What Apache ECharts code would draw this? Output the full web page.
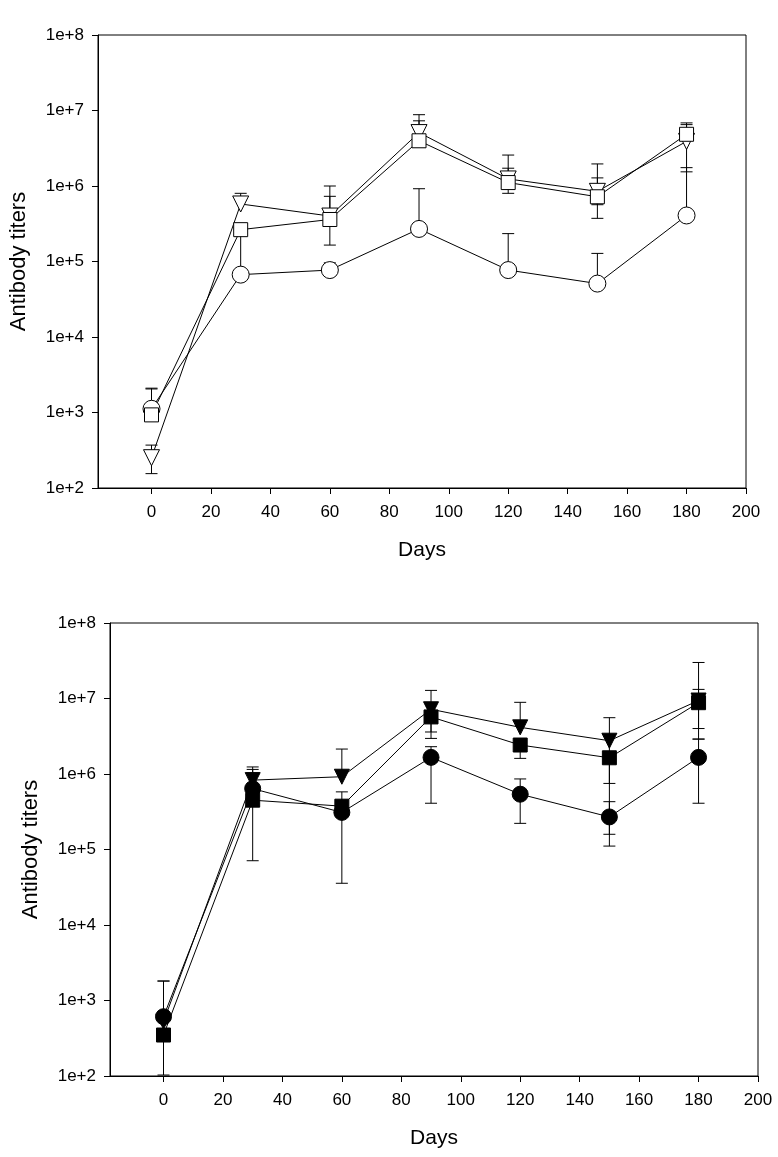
<!DOCTYPE html>
<html>
<head>
<meta charset="utf-8">
<script src="https://cdn.jsdelivr.net/npm/echarts@6/dist/echarts.min.js"></script>
<style>
html,body{margin:0;padding:0;background:#fff;}
#chart{width:778px;height:1157px;}
</style>
</head>
<body>
<div id="chart"></div>
<script>
// ---- data ----
const days = [0, 30, 60, 90, 120, 150, 180];
const xTicks = [0, 20, 40, 60, 80, 100, 120, 140, 160, 180, 200];
const yTicks = [1e2, 1e3, 1e4, 1e5, 1e6, 1e7, 1e8];

// top panel (open symbols)
const circleTop   = [1120, 67000, 77000, 270000, 77000, 51000, 407000];
const squareTop   = [930, 264000, 360000, 3970000, 1110000, 720000, 4840000];
const triangleTop = [252, 578000, 400000, 5100000, 1240000, 850000, 3900000];
const circleTopHi   = [2100, 264000, 96000, 920000, 234000, 128000, 1750000];
const circleTopLo   = [null, null, null, null, null, null, null];
const squareTopHi   = [2050, null, 1000000, 7300000, 1720000, 1280000, 6850000];
const squareTopLo   = [null, null, 165000, 3300000, 800000, 565000, null];
const triangleTopHi = [370, 800000, 730000, 8800000, 2570000, 1960000, 6500000];
const triangleTopLo = [155, null, null, null, null, 373000, 1540000];

// bottom panel (filled symbols)
const circleBot   = [610, 640000, 310000, 1660000, 540000, 270000, 1660000];
const squareBot   = [349, 450000, 375000, 5700000, 2420000, 1640000, 8800000];
const triangleBot = [524, 830000, 920000, 7200000, 4150000, 2760000, 9400000];
const circleBotHi   = [1810, 1150000, null, 2300000, 860000, 430000, 2900000];
const circleBotLo   = [null, null, 35700, 410000, 222000, 159000, 410000];
const squareBotHi   = [null, 1030000, 580000, null, null, null, 30000000];
const squareBotLo   = [103, 71000, null, 2960000, 1610000, 111000, 4000000];
const triangleBotHi = [1810, 1240000, 2140000, 12800000, 8900000, 5570000, 13200000];
const triangleBotLo = [null, null, null, 3600000, null, 750000, 2900000];

// ---- build ----
const FONT = '"Liberation Sans", Arial, sans-serif';

function pairs(vals) { return days.map((d, i) => [d, vals[i]]); }

function errSeries(vals, hi, lo, gi) {
  const data = days.map((d, i) => [d,
    lo[i] == null ? vals[i] : lo[i],
    hi[i] == null ? vals[i] : hi[i]]);
  return {
    type: 'custom', xAxisIndex: gi, yAxisIndex: gi, z: 1, silent: true,
    encode: { x: 0, y: [1, 2] },
    data: data,
    renderItem: function (params, api) {
      const i = params.dataIndex;
      const x = api.value(0);
      const pv = api.coord([x, vals[i]]);
      const children = [];
      const w = 6;
      const style = { stroke: '#000', lineWidth: 1 };
      if (hi[i] != null) {
        const ph = api.coord([x, hi[i]]);
        children.push({ type: 'line', shape: { x1: pv[0], y1: pv[1], x2: ph[0], y2: ph[1] }, style: style });
        children.push({ type: 'line', shape: { x1: ph[0] - w, y1: ph[1], x2: ph[0] + w, y2: ph[1] }, style: style });
      }
      if (lo[i] != null) {
        const pl = api.coord([x, lo[i]]);
        children.push({ type: 'line', shape: { x1: pv[0], y1: pv[1], x2: pl[0], y2: pl[1] }, style: style });
        children.push({ type: 'line', shape: { x1: pl[0] - w, y1: pl[1], x2: pl[0] + w, y2: pl[1] }, style: style });
      }
      return { type: 'group', children: children };
    }
  };
}

function lineSeries(vals, symbol, size, filled, gi, rotate) {
  return {
    type: 'line', xAxisIndex: gi, yAxisIndex: gi, z: 3,
    data: pairs(vals),
    symbol: symbol, symbolSize: size, symbolRotate: rotate || 0,
    showAllSymbol: true,
    lineStyle: { color: '#000', width: 1 },
    itemStyle: { color: filled ? '#000' : '#fff', borderColor: '#000', borderWidth: 1, opacity: 1 },
    animation: false
  };
}

function xAx(gi) {
  return {
    gridIndex: gi, type: 'value', min: -18, max: 200,
    name: 'Days', nameLocation: 'middle', nameGap: 52,
    nameTextStyle: { fontFamily: FONT, fontSize: 21, color: '#000' },
    axisLine: { show: true, onZero: false, lineStyle: { color: '#000', width: 1 } },
    axisTick: { show: true, length: 6, inside: false, customValues: xTicks, lineStyle: { color: '#000' } },
    axisLabel: { customValues: xTicks, margin: 16, fontFamily: FONT, fontSize: 17, color: '#000' },
    splitLine: { show: false }
  };
}
function yAx(gi) {
  return {
    gridIndex: gi, type: 'log', logBase: 10, min: 1e2, max: 1e8,
    name: 'Antibody titers', nameLocation: 'middle', nameGap: 68,
    nameTextStyle: { fontFamily: FONT, fontSize: 22, color: '#000' },
    axisLine: { show: true, onZero: false, lineStyle: { color: '#000', width: 1 } },
    axisTick: { show: true, length: 6, inside: false, customValues: yTicks, lineStyle: { color: '#000' } },
    axisLabel: {
      customValues: yTicks, margin: 14, fontFamily: FONT, fontSize: 17, color: '#000',
      formatter: v => '1e+' + Math.round(Math.log10(v))
    },
    splitLine: { show: false }
  };
}

const option = {
  backgroundColor: '#fff',
  animation: false,
  grid: [
    { left: 98, right: 32, top: 35, bottom: 669, show: true, borderColor: '#000', borderWidth: 1, backgroundColor: 'transparent' },
    { left: 110, right: 20, top: 623, bottom: 81, show: true, borderColor: '#000', borderWidth: 1, backgroundColor: 'transparent' }
  ],
  xAxis: [xAx(0), xAx(1)],
  yAxis: [yAx(0), yAx(1)],
  series: [
    errSeries(circleTop, circleTopHi, circleTopLo, 0),
    errSeries(squareTop, squareTopHi, squareTopLo, 0),
    errSeries(triangleTop, triangleTopHi, triangleTopLo, 0),
    lineSeries(circleTop, 'circle', 17, false, 0),
    lineSeries(triangleTop, 'triangle', 16, false, 0, 180),
    lineSeries(squareTop, 'rect', 14, false, 0),

    errSeries(circleBot, circleBotHi, circleBotLo, 1),
    errSeries(squareBot, squareBotHi, squareBotLo, 1),
    errSeries(triangleBot, triangleBotHi, triangleBotLo, 1),
    lineSeries(circleBot, 'circle', 16, true, 1),
    lineSeries(triangleBot, 'triangle', 15, true, 1, 180),
    lineSeries(squareBot, 'rect', 14, true, 1)
  ]
};

const chart = echarts.init(document.getElementById('chart'), null, { renderer: 'canvas' });
chart.setOption(option);
</script>
</body>
</html>
